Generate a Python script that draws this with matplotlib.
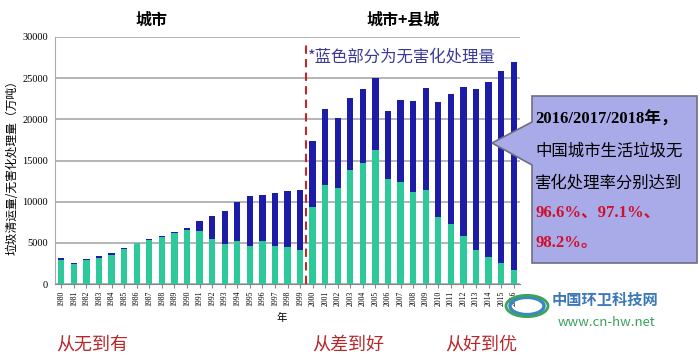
import matplotlib
matplotlib.use("Agg")
import matplotlib.pyplot as plt
from matplotlib.patches import Polygon, Circle
import numpy as np

plt.rcParams['font.family'] = ['Noto Sans CJK SC', 'DejaVu Sans']

years = [str(y) for y in range(1980, 2017)]
# total collected (万吨) and harmless treated (万吨)
total = [3100, 2600, 3090, 3450, 3740, 4430, 5000, 5410, 5770, 6300,
         6790, 7640, 8290, 8820, 9960, 10690, 10850, 11020, 11340, 11420,
         17310, 21260, 20120, 22640, 23700, 25080, 21050, 22310, 22190, 23770,
         22110, 23120, 23890, 23730, 24550, 25850, 26990]
treated = [2900, 2400, 2930, 3210, 3540, 4270, 4920, 5330, 5650, 6220,
           6540, 6420, 5490, 4880, 5200, 4670, 5280, 4670, 4550, 4190,
           9390, 11990, 11710, 13900, 14720, 16300, 12800, 12440, 11140, 11380,
           8090, 7320, 5770, 4070, 3330, 2520, 1710]
yticks = [0, 5000, 10000, 15000, 20000, 25000, 30000]

W, H = 700, 355


def fx(x):
    return x / W


def fy(y):
    return 1 - y / H


fig = plt.figure(figsize=(7, 3.55), dpi=100)
ax = fig.add_axes([fx(55), fy(284), fx(520) - fx(55), fy(37) - fy(284)])

x = np.arange(len(years))
rest = np.array(total) - np.array(treated)
ax.bar(x, treated, width=0.5, color='#2ec99b', zorder=3)
ax.bar(x, rest, bottom=treated, width=0.5, color='#1c1ca6', zorder=3)

ax.set_xlim(-0.5, len(years) - 0.5)
ax.set_ylim(0, 30000)
ax.set_yticks(yticks)
ax.set_yticklabels([str(v) for v in yticks], family='Liberation Serif', fontsize=7.5)
ax.set_xticks(x)
ax.set_xticklabels(years, rotation=90, family='Liberation Serif', fontsize=5.5)
ax.yaxis.grid(True, color='#a8a8a8', lw=1.2, zorder=0)
ax.tick_params(axis='y', length=0, pad=5)
ax.tick_params(axis='x', length=3, color='#888888', pad=2)
for s in ['top', 'right']:
    ax.spines[s].set_visible(False)
ax.spines['left'].set_color('#a8a8a8')
ax.spines['bottom'].set_color('#888888')

# divider between city-only and city+county data
ax.axvline(19.5, color='#c0282a', lw=1.5, ls=(0, (4, 2.5)), zorder=4, ymax=0.985)

fig.text(fx(152), fy(20), '城市', fontsize=11.5, fontweight='bold', ha='center', va='center')
fig.text(fx(403), fy(20), '城市+县城', fontsize=11.5, fontweight='bold', ha='center', va='center')
fig.text(fx(308), fy(57), '*蓝色部分为无害化处理量', fontsize=11.8, color='#3a3a96',
         ha='left', va='center')
fig.text(fx(12), fy(165), '垃圾清运量/无害化处理量（万吨）', fontsize=8.5, rotation=90,
         ha='center', va='center')
fig.text(fx(282), fy(318), '年', fontsize=7.5, ha='center', va='center')

for label, xc in [('从无到有', 92), ('从差到好', 348), ('从好到优', 481)]:
    fig.text(fx(xc), fy(345), label, fontsize=13, color='#b8262a', ha='center', va='center')

# callout box
pts = [(532, 96), (697, 96), (697, 263), (532, 263), (532, 165), (492, 143), (532, 122)]
fig.patches.append(Polygon([(fx(a), fy(b)) for a, b in pts], closed=True,
                           transform=fig.transFigure, facecolor='#a9aae8',
                           edgecolor='#6e6e80', lw=1.2, zorder=5))
fig.text(fx(535), fy(120), '2016/2017/2018年，', fontsize=12, fontweight='bold',
         family=['Liberation Serif', 'Noto Sans CJK SC'], va='center', zorder=6)
fig.text(fx(535), fy(151), '中国城市生活垃圾无', fontsize=11.8, va='center', zorder=6)
fig.text(fx(535), fy(183), '害化处理率分别达到', fontsize=11.8, va='center', zorder=6)
fig.text(fx(535), fy(213), '96.6%、97.1%、', fontsize=12, fontweight='bold', color='#d0102c',
         family=['Liberation Serif', 'Noto Sans CJK SC'], va='center', zorder=6)
fig.text(fx(535), fy(243), '98.2%。', fontsize=12, fontweight='bold', color='#d0102c',
         family=['Liberation Serif', 'Noto Sans CJK SC'], va='center', zorder=6)

# watermark
fig.patches.append(Circle((fx(527), fy(306)), 17 / W, transform=fig.transFigure,
                          facecolor='none', edgecolor='#3d86c6', lw=2.5, zorder=5))
fig.patches.append(Circle((fx(527), fy(306)), 21 / W, transform=fig.transFigure,
                          facecolor='none', edgecolor='#3aa45a', lw=2, zorder=5))
fig.text(fx(552), fy(300), '中国环卫科技网', fontsize=11, fontweight='bold', color='#3a78b8',
         va='center', zorder=6)
fig.text(fx(558), fy(323), 'www.cn-hw.net', fontsize=9.5, color='#3aa060', va='center', zorder=6)

fig.savefig('out.png', dpi=100)
